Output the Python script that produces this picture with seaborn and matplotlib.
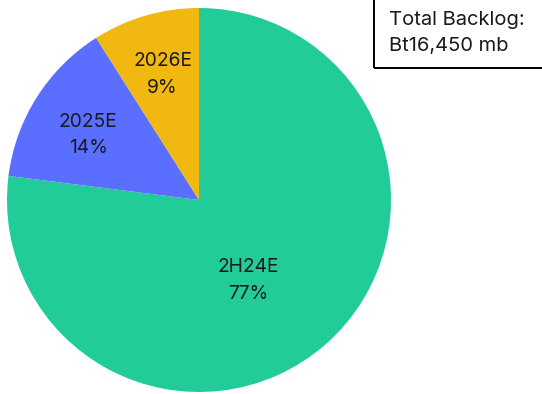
import matplotlib
matplotlib.use("Agg")
import matplotlib.pyplot as plt
import seaborn as sns
import numpy as np
from matplotlib.patches import Rectangle

sns.set_theme(style="white")
plt.rcParams['font.family'] = ['Inter', 'DejaVu Sans']

categories = ["2H24E", "2025E", "2026E"]
shares = [77, 14, 9]
colors = ["#22CC99", "#5A6EFF", "#F0B810"]
total_label = "Total Backlog:\nBt16,450 mb"

fig = plt.figure(figsize=(5.42, 3.94), dpi=100)
ax = fig.add_axes([7/542, 2/394, 384/542, 384/394])
wedges, _ = ax.pie(shares, colors=colors, startangle=90, counterclock=False,
                   radius=1.0, wedgeprops=dict(linewidth=0))
ax.set_xlim(-1, 1)
ax.set_ylim(-1, 1)
ax.set_aspect("equal")
ax.axis("off")

# label placement (radius, angle offset in degrees)
label_r = [0.49, 0.67, 0.68]
label_dang = [-10, 2, 0]
for w, cat, s, r, da in zip(wedges, categories, shares, label_r, label_dang):
    ang = np.deg2rad((w.theta1 + w.theta2) / 2 + da)
    ax.text(r * np.cos(ang), r * np.sin(ang), f"{cat}\n{s}%", ha="center", va="center",
            fontsize=13.8, color="#1a1a1a", linespacing=1.6)

fig.patches.append(Rectangle((374/542, (394-68)/394), 0.5, 0.5, transform=fig.transFigure,
                             fill=False, edgecolor="black", linewidth=1.4, clip_on=False))
fig.text(389/542, (394-33)/394, total_label, ha="left", va="center", fontsize=14.5,
         color="#1a1a1a", linespacing=1.6)

fig.savefig("out.png", dpi=100)
